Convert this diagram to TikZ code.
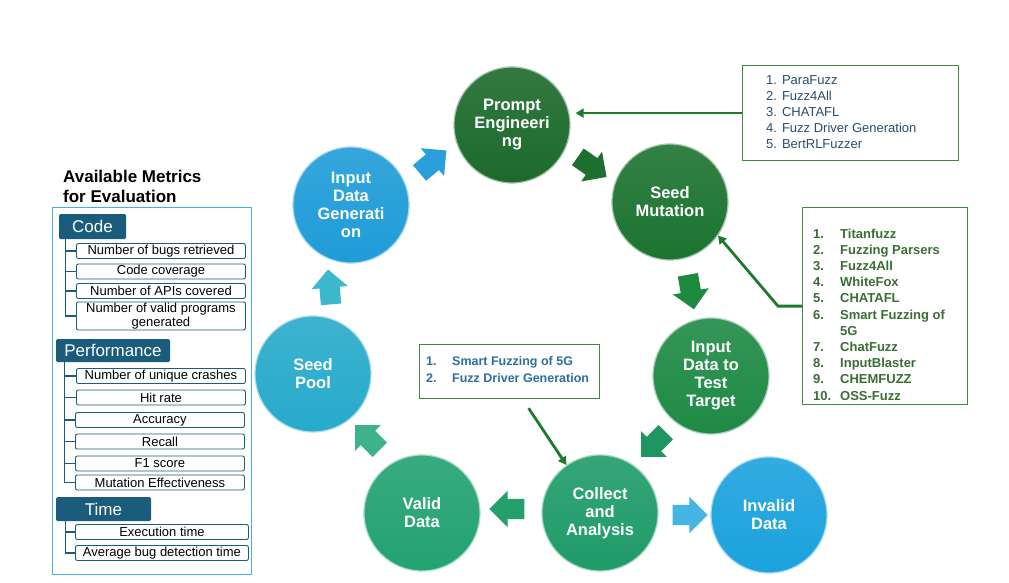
\documentclass[tikz,border=0pt]{standalone}
\usepackage{fontspec}
\setmainfont{Liberation Sans}
\usetikzlibrary{shapes.arrows,arrows.meta,calc}
\definecolor{cPrompt}{HTML}{1C6A2B}
\definecolor{cSeedMut}{HTML}{1C7330}
\definecolor{cTarget}{HTML}{1E8A45}
\definecolor{cCollect}{HTML}{1F9B68}
\definecolor{cValid}{HTML}{22A272}
\definecolor{cInvalid}{HTML}{1BA2DD}
\definecolor{cPool}{HTML}{27AACB}
\definecolor{cGen}{HTML}{1F9CD8}
\definecolor{hdr}{HTML}{1B5B7B}
\definecolor{panel}{HTML}{4AAEDC}
\definecolor{boxg}{HTML}{3F8A3F}
\definecolor{lineg}{HTML}{1F7A2E}
\definecolor{txtA}{HTML}{2A4D6E}
\definecolor{txtB}{HTML}{3A6E35}
\definecolor{txtC}{HTML}{2B6EA3}
\definecolor{aA}{HTML}{2A9FDB}
\definecolor{aB}{HTML}{1D7030}
\definecolor{aC}{HTML}{1E8A40}
\definecolor{aD}{HTML}{1F9560}
\definecolor{aE}{HTML}{45B5E6}
\definecolor{aF}{HTML}{23A06C}
\definecolor{aG}{HTML}{3DB38A}
\definecolor{aH}{HTML}{3CB7CC}
\tikzset{
  stage/.style={circle, minimum size=116pt, inner sep=0pt, text=white,
    font=\fontsize{16.5}{18}\selectfont\bfseries, align=center,
    top color=#1!90!white, bottom color=#1, draw=#1!40!white, line width=1.2pt},
  blockarr/.style={single arrow, minimum height=35pt, inner xsep=0pt, inner ysep=10pt,
    single arrow head extend=8pt, fill=#1, draw=none},
  hdrbox/.style={fill=hdr, text=white, font=\fontsize{17}{19}\selectfont,
    rounded corners=1.5pt, inner sep=0pt},
  metric/.style={draw=hdr, line width=0.9pt, rounded corners=2pt, fill=white,
    minimum width=169pt, minimum height=15pt, inner sep=0pt,
    font=\fontsize{13}{13.5}\selectfont, anchor=west, align=center},
  tree/.style={draw=hdr, line width=1.2pt},
  listbox/.style={draw=boxg, line width=1.2pt, fill=white, inner sep=0pt},
  reflink/.style={draw=lineg, line width=2.8pt, -{Triangle[length=8pt,width=9pt]}},
}
\begin{document}
\begin{tikzpicture}[x=1pt,y=-1pt]
\useasboundingbox (0,0) rectangle (1009,583);
\fill[white] (0,0) rectangle (1009,583);

% cycle stages
\node[stage=cPrompt] (prompt) at (512,125) {Prompt\\Engineeri\\ng};
\node[stage=cSeedMut] (seedmut) at (670,202) {Seed\\Mutation};
\node[stage=cTarget] (target) at (711,376) {Input\\Data to\\Test\\Target};
\node[stage=cCollect] (collect) at (600,513) {Collect\\and\\Analysis};
\node[stage=cInvalid] (invalid) at (769,515) {Invalid\\Data};
\node[stage=cValid] (valid) at (422,513) {Valid\\Data};
\node[stage=cPool] (pool) at (313,374) {Seed\\Pool};
\node[stage=cGen] (gen) at (351,205) {Input\\Data\\Generati\\on};

% block arrows
\node[blockarr=aA, rotate=40] (a1) at (429,165) {};
\node[blockarr=aB, rotate=-35] (a2) at (588,164) {};
\node[blockarr=aC, rotate=-80] (a3) at (690,287) {};
\node[blockarr=aD, rotate=-135] (a4) at (657,441) {};
\node[blockarr=aE] (a5) at (685,515) {};
\node[blockarr=aF, rotate=180] (a6) at (512,509) {};
\node[blockarr=aG, rotate=135] (a7) at (371,441) {};
\node[blockarr=aH, rotate=95] (a8) at (330,292) {};

% reference box 1
\node[listbox, anchor=north west, minimum width=216pt, minimum height=95pt] (refs1) at (742,65) {};
\node[anchor=west, inner sep=0pt, text=txtA, font=\fontsize{13}{16}\selectfont] (list1)
  at ($(refs1.west)+(24,0)$)
  {\begin{tabular}{@{}r@{\hspace{5pt}}l@{}}
   1.&ParaFuzz\\
   2.&Fuzz4All\\
   3.&CHATAFL\\
   4.&Fuzz Driver Generation\\
   5.&BertRLFuzzer
   \end{tabular}};
\draw[reflink, line width=2.5pt] (refs1.west) -- ($(refs1.west -| prompt.east)+(5,0)$);

% reference box 2
\node[listbox, anchor=north west, minimum width=165pt, minimum height=197pt] (refs2) at (802,207) {};
\node[anchor=north west, inner sep=0pt, text=txtB, font=\fontsize{13}{16.2}\selectfont\bfseries] (list2)
  at ($(refs2.north west)+(11,19.5)$)
  {\begin{tabular}{@{}p{27pt}@{}l@{}}
   1.&Titanfuzz\\
   2.&Fuzzing Parsers\\
   3.&Fuzz4All\\
   4.&WhiteFox\\
   5.&CHATAFL\\
   6.&Smart Fuzzing of\\
     &5G\\
   7.&ChatFuzz\\
   8.&InputBlaster\\
   9.&CHEMFUZZ\\
   10.&OSS-Fuzz
   \end{tabular}};
\coordinate (bend2) at ($(refs2.west)+(-24,0)$);
\draw[reflink] (refs2.west) -- (bend2) -- (seedmut.-35);

% reference box 3
\node[listbox, anchor=north west, minimum width=180pt, minimum height=54pt] (refs3) at (419,344) {};
\node[anchor=west, inner sep=0pt, text=txtC, font=\fontsize{12.5}{17}\selectfont\bfseries] (list3)
  at ($(refs3.west)+(7,-1.5)$)
  {\begin{tabular}{@{}p{26pt}@{}l@{}}
   1.&Smart Fuzzing of 5G\\
   2.&Fuzz Driver Generation
   \end{tabular}};
\coordinate (start3) at ($(refs3.south)+(19,9)$);
\draw[reflink] (start3) -- (collect.125);

% metrics panel
\node[anchor=west, inner sep=0pt, align=left, font=\fontsize{17}{20}\selectfont\bfseries] (title)
  at (63,186) {Available Metrics\\for Evaluation};
\draw[draw=panel, line width=1pt] (52,207) rectangle (251,574);

\node[hdrbox, minimum width=67pt, minimum height=25pt] (codeh) at (92.5,226.5) {Code};
\node[metric] (c1) at (76,251) {Number of bugs retrieved};
\node[metric] (c2) at (76,271.5) {Code coverage};
\node[metric] (c3) at (76,291) {Number of APIs covered};
\node[metric, minimum height=28pt] (c4) at (76,316) {Number of valid programs\\generated};
\foreach \i in {c1,c2,c3,c4} \draw[tree] ($(codeh.south west)+(7,0)$) |- (\i.west);

\node[hdrbox, minimum width=114pt, minimum height=23pt] (perfh) at (113,350.5) {Performance};
\node[metric] (p1) at (76,376) {Number of unique crashes};
\node[metric] (p2) at (76,397.5) {Hit rate};
\node[metric] (p3) at (75,420) {Accuracy};
\node[metric] (p4) at (75,441.5) {Recall};
\node[metric] (p5) at (75,463.5) {F1 score};
\node[metric] (p6) at (75,482.5) {Mutation Effectiveness};
\foreach \i in {p1,p2,p3,p4,p5,p6} \draw[tree] ($(perfh.south west)+(9,0)$) |- (\i.west);

\node[hdrbox, minimum width=95pt, minimum height=24pt] (timeh) at (103.5,509) {Time};
\node[metric, minimum width=173pt] (t1) at (75,532) {Execution time};
\node[metric, minimum width=173pt] (t2) at (75,553) {Average bug detection time};
\foreach \i in {t1,t2} \draw[tree] ($(timeh.south west)+(10,0)$) |- (\i.west);
\end{tikzpicture}
\end{document}
